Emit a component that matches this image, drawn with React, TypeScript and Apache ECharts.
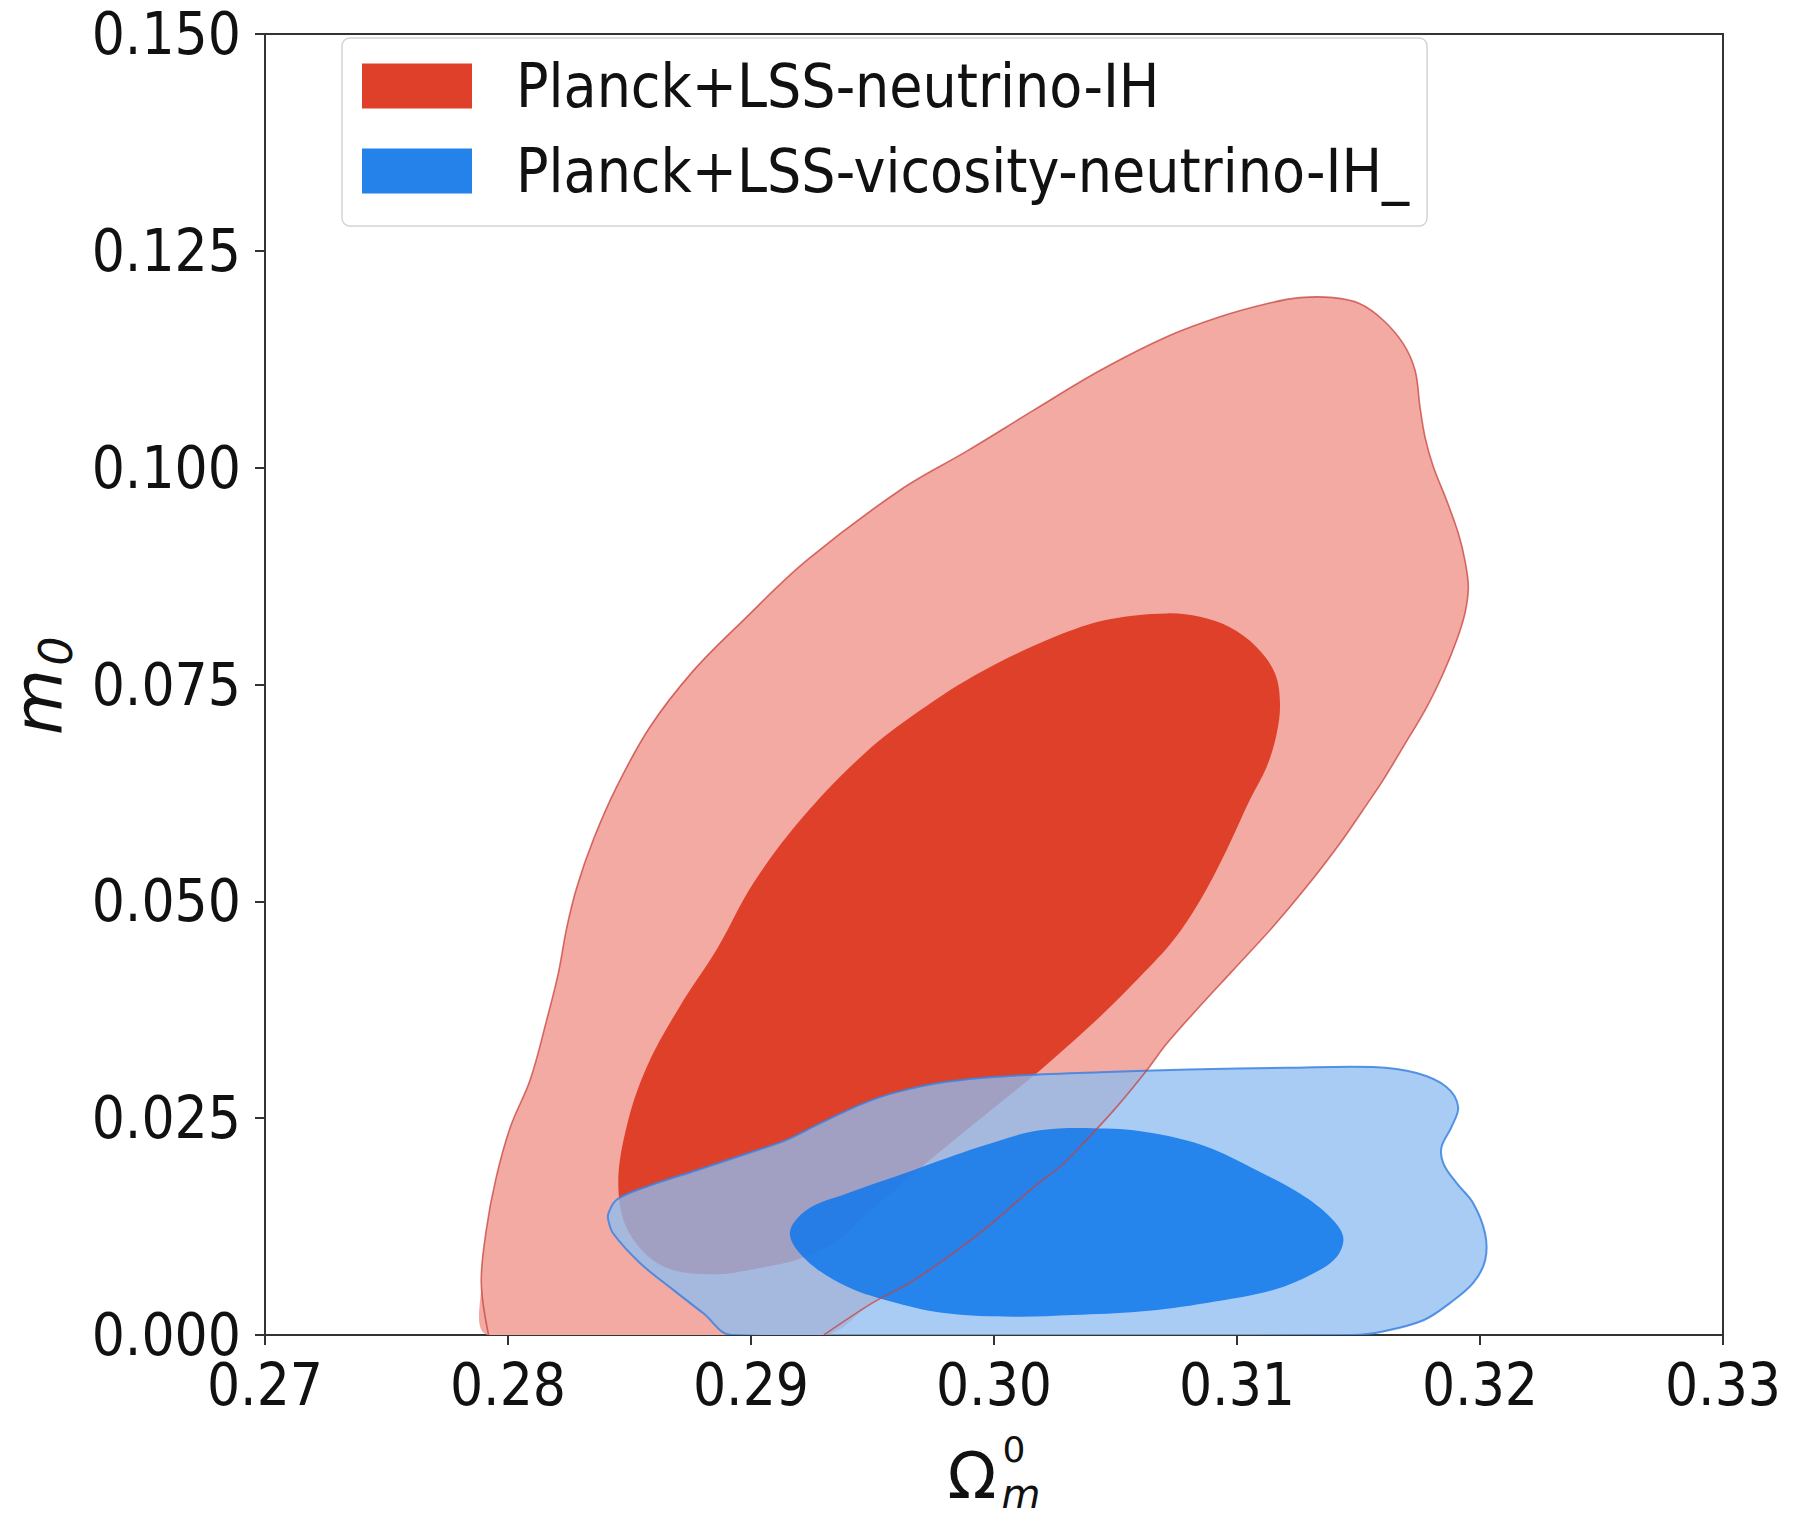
import React, { useEffect, useRef } from "react";
import * as echarts from "echarts";

const RED_NAME = "Planck+LSS-neutrino-IH";
const BLUE_NAME = "Planck+LSS-vicosity-neutrino-IH_";

// contour outlines, [Omega_m^0, m_0]
const redOuter: number[][] = [
  [0.2792, 0.0], [0.2789, 0.006], [0.2791, 0.012], [0.2795, 0.018], [0.2801, 0.024],
  [0.28091, 0.0294], [0.28159, 0.0363], [0.28207, 0.0417], [0.28242, 0.047],
  [0.28283, 0.0516], [0.28351, 0.0571], [0.28447, 0.0632], [0.28584, 0.0701],
  [0.28763, 0.0766], [0.28968, 0.0824], [0.29229, 0.0893], [0.29613, 0.0974],
  [0.29888, 0.1019], [0.30162, 0.1066], [0.30436, 0.1112], [0.30711, 0.1151],
  [0.3093, 0.1174], [0.31122, 0.1189], [0.31259, 0.1196], [0.31396, 0.1196],
  [0.31506, 0.1189], [0.31602, 0.117], [0.31684, 0.1143], [0.31733, 0.1112],
  [0.31753, 0.107], [0.31774, 0.1035], [0.31808, 0.1001], [0.31863, 0.0962],
  [0.31911, 0.0924], [0.31938, 0.0893], [0.31952, 0.0862], [0.31938, 0.0832],
  [0.31904, 0.0801], [0.31849, 0.0763], [0.31781, 0.0724], [0.31684, 0.0678],
  [0.31602, 0.064], [0.31547, 0.0617], [0.31424, 0.0567], [0.31287, 0.0517],
  [0.31149, 0.0471], [0.30985, 0.0421], [0.30834, 0.0375], [0.30711, 0.0336],
  [0.30628, 0.0305], [0.30505, 0.0263], [0.30381, 0.0225], [0.30272, 0.0194],
  [0.3017, 0.0172], [0.2994, 0.0117], [0.2967, 0.0063], [0.295, 0.0037], [0.293, 0.0],
];

const redInner: number[][] = [
  [0.30711, 0.0832], [0.30848, 0.0828], [0.30971, 0.0816], [0.31081, 0.0793],
  [0.31156, 0.0763], [0.31177, 0.0728], [0.31163, 0.0693], [0.31122, 0.0655],
  [0.31053, 0.0617], [0.30957, 0.0559], [0.30848, 0.0501], [0.30738, 0.0455],
  [0.30601, 0.0413], [0.30436, 0.0367], [0.30299, 0.0332], [0.30189, 0.0305],
  [0.3, 0.0262], [0.29737, 0.0202], [0.29462, 0.0136], [0.2935, 0.0108],
  [0.292, 0.0088], [0.2903, 0.0077], [0.2885, 0.007], [0.2864, 0.0079],
  [0.285, 0.0117], [0.28454, 0.0171], [0.28488, 0.024], [0.28571, 0.0309],
  [0.28705, 0.0378], [0.2886, 0.0445], [0.2901, 0.0521], [0.2921, 0.0596],
  [0.29465, 0.067], [0.29695, 0.072], [0.2995, 0.0765], [0.3025, 0.0805],
  [0.3047, 0.0825],
];

const blueOuter: number[][] = [
  [0.28413, 0.014], [0.28447, 0.0156], [0.28571, 0.0171], [0.28777, 0.019],
  [0.28982, 0.0209], [0.29147, 0.0225], [0.29284, 0.0244], [0.29462, 0.0267],
  [0.29599, 0.028], [0.29805, 0.0292], [0.3008, 0.0299], [0.30436, 0.0303],
  [0.308, 0.0306], [0.312, 0.0308], [0.31561, 0.0309], [0.31739, 0.0302],
  [0.31862, 0.0286], [0.3191, 0.0263], [0.31883, 0.024], [0.31842, 0.0217],
  [0.31849, 0.0198], [0.31904, 0.0175], [0.31972, 0.0152], [0.32021, 0.0117],
  [0.32021, 0.0086], [0.31972, 0.006], [0.31877, 0.0037], [0.31767, 0.0017],
  [0.316, 0.0004], [0.3148, 0.0], [0.2892, 0.0], [0.28804, 0.0025],
  [0.2868, 0.0052], [0.28543, 0.0083], [0.28433, 0.0117], [0.28413, 0.0132],
];

const blueInner: number[][] = [
  [0.2916, 0.0117], [0.29229, 0.0144], [0.29394, 0.0163], [0.29668, 0.019],
  [0.29942, 0.0217], [0.30189, 0.0236], [0.30464, 0.0238], [0.30669, 0.0232],
  [0.30875, 0.0217], [0.31081, 0.019], [0.31259, 0.0163], [0.31383, 0.0136],
  [0.31437, 0.0113], [0.3141, 0.009], [0.31314, 0.0071], [0.31149, 0.0052],
  [0.30875, 0.0037], [0.30601, 0.0027], [0.30326, 0.0023], [0.3008, 0.0021],
  [0.29805, 0.0025], [0.29599, 0.0037], [0.29394, 0.0056], [0.29229, 0.0086],
];

const xTicks = { min: 0.27, max: 0.33, step: 0.01 };
const yTicks = { min: 0, max: 0.15, step: 0.025 };

const FONT = '"DejaVu Sans Condensed", "DejaVu Sans", sans-serif';
const MATH_FONT = '"DejaVu Sans", sans-serif';

function shapeRender(points: number[][], style: any, closed: boolean) {
  return (params: any, api: any) => {
    if (params.dataIndex !== 0) return null;
    const pts = points.map((p) => api.coord(p));
    return {
      type: closed ? "polygon" : "polyline",
      shape: { points: pts, smooth: 0.35 },
      style,
    };
  };
}

export default function App() {
  const ref = useRef<HTMLDivElement>(null);
  useEffect(() => {
    if (!ref.current) return;
    const chart = echarts.init(ref.current, undefined, { renderer: "svg" });
    const axisColor = "#333";
    chart.setOption({
      animation: false,
      backgroundColor: "#fff",
      grid: {
        left: 265,
        right: 70,
        top: 34,
        bottom: 186,
        show: true,
        borderColor: axisColor,
        borderWidth: 2,
        backgroundColor: "transparent",
      },
      legend: {
        orient: "vertical",
        left: 342,
        top: 38,
        padding: [18, 18, 25, 20],
        itemWidth: 110,
        itemHeight: 45,
        itemGap: 25,
        icon: "rect",
        backgroundColor: "rgba(255,255,255,0.8)",
        borderColor: "#d4d4d4",
        borderWidth: 1.5,
        borderRadius: 8,
        textStyle: {
          fontFamily: FONT,
          fontSize: 60,
          color: "#111",
          padding: [0, 0, 0, 39],
        },
        data: [
          { name: RED_NAME, itemStyle: { color: "#df402a" } },
          { name: BLUE_NAME, itemStyle: { color: "#2682eb" } },
        ],
      },
      xAxis: {
        type: "value",
        min: xTicks.min,
        max: xTicks.max,
        interval: xTicks.step,
        axisLine: { show: true, onZero: false, lineStyle: { color: axisColor, width: 2 } },
        axisTick: { show: true, inside: false, length: 10, lineStyle: { color: axisColor, width: 2 } },
        axisLabel: {
          margin: 21,
          fontSize: 58,
          fontFamily: FONT,
          color: "#111",
          showMinLabel: true,
          showMaxLabel: true,
          formatter: (v: number) => v.toFixed(2),
        },
        splitLine: { show: false },
      },
      yAxis: {
        type: "value",
        min: yTicks.min,
        max: yTicks.max,
        interval: yTicks.step,
        axisLine: { show: true, onZero: false, lineStyle: { color: axisColor, width: 2 } },
        axisTick: { show: true, inside: false, length: 10, lineStyle: { color: axisColor, width: 2 } },
        axisLabel: {
          margin: 24,
          fontSize: 58,
          fontFamily: FONT,
          color: "#111",
          showMinLabel: true,
          showMaxLabel: true,
          formatter: (v: number) => v.toFixed(3),
        },
        splitLine: { show: false },
      },
      series: [
        {
          type: "custom",
          name: RED_NAME,
          data: redOuter,
          encode: { x: 0, y: 1 },
          clip: true,
          silent: true,
          itemStyle: { color: "#f2aaa2" },
          renderItem: shapeRender(redOuter, { fill: "#f2aaa2", stroke: "none" }, true),
        },
        {
          type: "custom",
          name: RED_NAME,
          data: redInner,
          encode: { x: 0, y: 1 },
          clip: true,
          silent: true,
          itemStyle: { color: "#df402a" },
          renderItem: shapeRender(redInner, { fill: "#df402a", stroke: "none" }, true),
        },
        {
          type: "custom",
          name: BLUE_NAME,
          data: blueOuter,
          encode: { x: 0, y: 1 },
          clip: true,
          silent: true,
          itemStyle: { color: "#8ebdf1" },
          renderItem: shapeRender(
            blueOuter,
            { fill: "rgba(142,189,241,0.77)", stroke: "rgba(60,130,225,0.85)", lineWidth: 2 },
            true
          ),
        },
        {
          type: "custom",
          name: BLUE_NAME,
          data: blueInner,
          encode: { x: 0, y: 1 },
          clip: true,
          silent: true,
          itemStyle: { color: "#2682eb" },
          renderItem: shapeRender(blueInner, { fill: "rgba(15,119,235,0.85)", stroke: "none" }, true),
        },
        {
          type: "custom",
          name: RED_NAME,
          data: redOuter,
          encode: { x: 0, y: 1 },
          clip: true,
          silent: true,
          itemStyle: { color: "#df402a" },
          renderItem: shapeRender(
            redOuter,
            { fill: "none", stroke: "rgba(200,65,60,0.75)", lineWidth: 1.6 },
            false
          ),
        },
      ],
      graphic: [
        {
          type: "group",
          x: 47,
          y: 687,
          rotation: Math.PI / 2,
          children: [
            {
              type: "text",
              x: -15,
              y: -9,
              style: {
                text: "m",
                fontFamily: MATH_FONT,
                fontStyle: "italic",
                fontSize: 68,
                lineHeight: 50,
                fill: "#111",
                align: "center",
                verticalAlign: "middle",
              },
            },
            {
              type: "text",
              x: 36,
              y: 9,
              style: {
                text: "0",
                fontFamily: MATH_FONT,
                fontStyle: "italic",
                fontSize: 46,
                lineHeight: 36,
                fill: "#111",
                align: "center",
                verticalAlign: "middle",
              },
            },
          ],
        },
        {
          type: "text",
          x: 972,
          y: 1476,
          style: {
            text: "Ω",
            fontFamily: MATH_FONT,
            fontSize: 64,
            lineHeight: 54,
            fill: "#111",
            align: "center",
            verticalAlign: "middle",
          },
        },
        {
          type: "text",
          x: 1021,
          y: 1494,
          style: {
            text: "m",
            fontFamily: MATH_FONT,
            fontStyle: "italic",
            fontSize: 40,
            lineHeight: 32,
            fill: "#111",
            align: "center",
            verticalAlign: "middle",
          },
        },
        {
          type: "text",
          x: 1014,
          y: 1449,
          style: {
            text: "0",
            fontFamily: MATH_FONT,
            fontSize: 36,
            lineHeight: 28,
            fill: "#111",
            align: "center",
            verticalAlign: "middle",
          },
        },
      ],
    });
    return () => chart.dispose();
  }, []);
  return (
    <div
      ref={ref}
      style={{ position: "absolute", left: 0, top: 0, width: 1793, height: 1521 }}
    />
  );
}
